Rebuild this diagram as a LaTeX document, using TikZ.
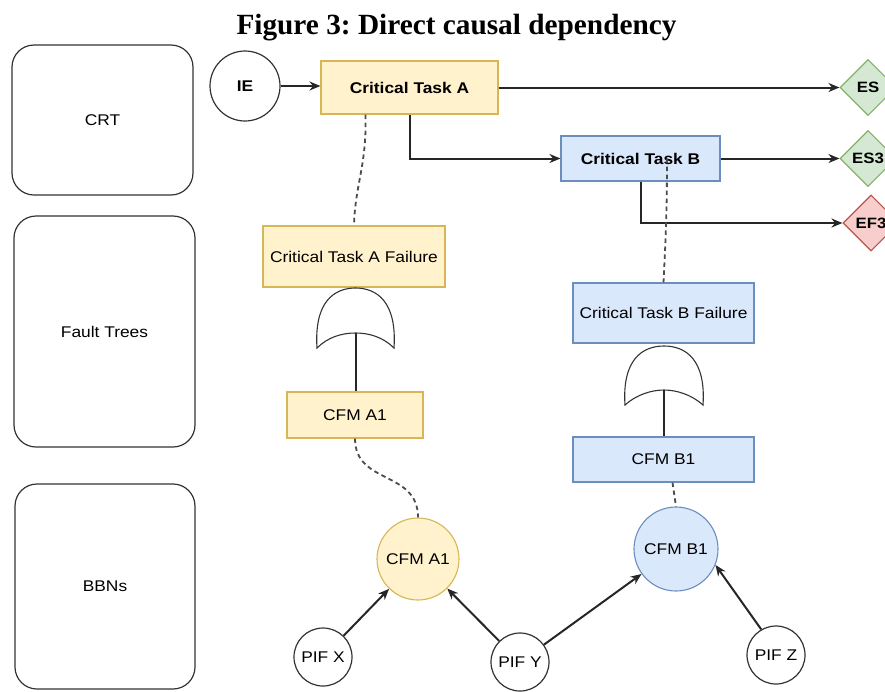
\documentclass[tikz,border=0pt]{standalone}
\usepackage{fontspec}
\setmainfont{Liberation Serif}
\setsansfont{Liberation Sans}[FakeStretch=1.12]
\usetikzlibrary{arrows.meta,shapes.geometric,calc}
\definecolor{yfill}{HTML}{FFF2CC}
\definecolor{ydraw}{HTML}{D6B656}
\definecolor{bfill}{HTML}{DAE8FC}
\definecolor{bdraw}{HTML}{6C8EBF}
\definecolor{gfill}{HTML}{D5E8D4}
\definecolor{gdraw}{HTML}{82B366}
\definecolor{rfill}{HTML}{F8CECC}
\definecolor{rdraw}{HTML}{B85450}
\definecolor{ink}{HTML}{333333}
\frenchspacing
\begin{document}
\begin{tikzpicture}[x=1pt,y=-1pt,
  every node/.style={font=\sffamily\fontsize{15.5}{18}\selectfont, text=black, inner sep=0pt},
  lane/.style={draw=ink, line width=1.2pt, rounded corners=22pt, rectangle},
  yellowbox/.style={draw=ydraw, fill=yfill, line width=1.1pt, rectangle},
  bluebox/.style={draw=bdraw, fill=bfill, line width=1.1pt, rectangle},
  greendia/.style={diamond, draw=gdraw, fill=gfill, line width=1.1pt, minimum width=56pt, minimum height=56pt, font=\sffamily\bfseries\fontsize{15}{18}\selectfont},
  reddia/.style={diamond, draw=rdraw, fill=rfill, line width=1.1pt, minimum width=56pt, minimum height=56pt, font=\sffamily\bfseries\fontsize{15}{18}\selectfont},
  plaincirc/.style={circle, draw=ink, line width=1.2pt, fill=white},
  bold/.style={font=\sffamily\bfseries\fontsize{15.5}{18}\selectfont},
  flow/.style={draw=black!85, line width=2pt, -{Stealth[length=11pt,width=9pt]}},
  dashlink/.style={draw=black!70, line width=1.8pt, dash pattern=on 4.5pt off 3.5pt},
  gate/.style={draw=ink, line width=1.1pt, fill=white},
  stem/.style={draw=black!85, line width=2pt}
]
\useasboundingbox (0,0) rectangle (885,691);

% title
\node[font=\rmfamily\bfseries\fontsize{29.3}{34}\selectfont, anchor=base] (title) at (456.5,34) {Figure 3: Direct causal dependency};

% lanes
\node[lane, minimum width=181pt, minimum height=150pt] (crt) at (102.5,120) {CRT};
\node[lane, minimum width=181pt, minimum height=231pt] (ft) at (104.5,331.5) {Fault Trees};
\node[lane, minimum width=180pt, minimum height=205pt] (bbn) at (105,586.5) {BBNs};

% CRT level
\node[plaincirc, minimum size=70pt, bold] (ie) at (245,86) {IE};
\node[yellowbox, minimum width=177pt, minimum height=53pt, bold] (cta) at (409.5,87.5) {Critical Task A};
\node[bluebox, minimum width=159pt, minimum height=45pt, bold] (ctb) at (640.5,158.5) {Critical Task B};
\node[greendia] (es) at (868,87.5) {ES};
\node[greendia] (es3) at (868,158.5) {ES3};
\node[reddia] (ef3) at (871,223) {EF3};

% fault tree level
\node[yellowbox, minimum width=182pt, minimum height=61pt] (ctaf) at (354,256.5) {Critical Task A Failure};
\node[yellowbox, minimum width=136pt, minimum height=46pt] (cfmabox) at (355,415) {CFM A1};
\node[bluebox, minimum width=181pt, minimum height=60pt] (ctbf) at (663.5,313) {Critical Task B Failure};
\node[bluebox, minimum width=181pt, minimum height=45pt] (cfmbbox) at (663.5,459.5) {CFM B1};

% OR gates
\draw[gate] (317,348) .. controls (314,302) and (334,288) .. (355.5,288)
  .. controls (377,288) and (397,302) .. (394,348)
  .. controls (383,337) and (369,333) .. (355.5,333)
  .. controls (342,333) and (328,337) .. (317,348) -- cycle;
\coordinate (gatea) at (355.5,333);
\draw[gate] (625,405) .. controls (622,360) and (642,346) .. (664,346)
  .. controls (686,346) and (706,360) .. (703,405)
  .. controls (692,395) and (677,390) .. (664,390)
  .. controls (651,390) and (636,395) .. (625,405) -- cycle;
\coordinate (gateb) at (664,390);
\draw[stem] (gatea) -- (gatea |- cfmabox.north);
\draw[stem] (gateb) -- (gateb |- cfmbbox.north);

% BBN level
\node[circle, draw=ydraw, fill=yfill, line width=1.1pt, minimum size=82pt] (ca) at (418,559) {CFM A1};
\node[circle, draw=bdraw, fill=bfill, line width=1.1pt, minimum size=84pt] (cb) at (676,549) {CFM B1};
\node[plaincirc, minimum size=58pt] (pifx) at (323,657) {PIF X};
\node[plaincirc, minimum size=58pt] (pify) at (520,662) {PIF Y};
\node[plaincirc, minimum size=58pt] (pifz) at (776,655) {PIF Z};

% flow arrows
\draw[flow] (ie.east) -- (ie.east -| cta.west);
\draw[flow] (cta.east) -- (es.west);
\draw[flow] (cta.south) |- (ctb.west);
\draw[flow] (ctb.east) -- (es3.west);
\draw[flow] (ctb.south) |- (ef3.west);

% dashed links
\coordinate (ctadash) at ($(cta.south west)+(45,0)$);
\draw[dashlink] (ctadash) .. controls (367,165) and (355,185) .. (ctaf.north);
\coordinate (ctbdash) at ($(ctb.center)+(26.5,0)$);
\draw[dashlink] (ctbdash) .. controls (667,220) and (665,250) .. (ctbf.north);
\draw[dashlink] (cfmabox.south) .. controls (355,485) and (418,470) .. (ca.north);
\coordinate (cfmbdash) at ($(cfmbbox.south)+(9,0)$);
\draw[dashlink] (cfmbdash) -- (cb.north);

% BBN arrows
\draw[flow] (pifx) -- (ca);
\draw[flow] (pify) -- (ca);
\draw[flow] (pify) -- (cb);
\draw[flow] (pifz.120) -- (cb.-22);
\end{tikzpicture}
\end{document}
